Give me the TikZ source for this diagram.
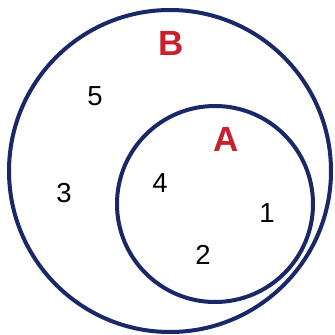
\documentclass[tikz,border=0pt]{standalone}
\usepackage{fontspec}
\setmainfont{Liberation Sans}
\definecolor{navy}{HTML}{1A2868}
\definecolor{lblred}{HTML}{C8202C}
\begin{document}
\begin{tikzpicture}[x=1pt,y=-1pt,
  setline/.style={draw=navy,line width=4pt},
  setlbl/.style={text=lblred,font=\fontsize{35}{35}\selectfont\bfseries,inner sep=0pt},
  elem/.style={font=\fontsize{27.5}{27.5}\selectfont,inner sep=0pt}]
\useasboundingbox (0,0) rectangle (335,335);
\fill[white] (0,0) rectangle (335,335);
\node[setline,circle,minimum size=322pt,inner sep=0pt] (B) at (170,171) {};
\node[setline,circle,minimum size=196pt,inner sep=0pt] (A) at (215,204) {};
\node[setlbl] (lB) at (171,43) {B};
\node[setlbl] (lA) at (226,139) {A};
\node[elem] (e5) at (95,96) {5};
\node[elem] (e3) at (64,193) {3};
\node[elem] (e4) at (160,183) {4};
\node[elem] (e1) at (267,213) {1};
\node[elem] (e2) at (203,255) {2};
\end{tikzpicture}
\end{document}
